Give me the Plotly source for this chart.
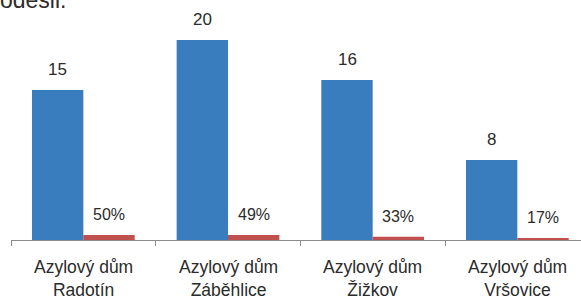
import plotly.graph_objects as go

categories = ["Radotín", "Záběhlice", "Žižkov", "Vršovice"]
label_prefix = "Azylový dům"
counts = [15, 20, 16, 8]
shares = [0.50, 0.49, 0.33, 0.17]
share_labels = ["50%", "49%", "33%", "17%"]
count_labels = ["15", "20", "16", "8"]
heading_text = "odešli."

BLUE = "#3a7dbf"
RED = "#c0504d"
TEXT = "#2b2b2b"
FONT = "Liberation Sans, Arial"
BARGAP = 0.29
PLOT_H = 210
PLOT_W = 570

fig = go.Figure()
fig.add_trace(go.Bar(x=categories, y=counts, marker=dict(color=BLUE, line=dict(width=0)),
                     hoverinfo="skip"))
fig.add_trace(go.Bar(x=categories, y=shares, marker=dict(color=RED, line=dict(width=0)),
                     hoverinfo="skip"))

half = (1 - BARGAP) / 4
annotations = []
for i, cat in enumerate(categories):
    annotations.append(dict(x=i - half, y=counts[i], xref="x", yref="y", text=count_labels[i],
                            showarrow=False, yanchor="bottom", yshift=9,
                            font=dict(size=17, color=TEXT, family=FONT)))
    annotations.append(dict(x=i + half, y=shares[i], xref="x", yref="y", text=share_labels[i],
                            showarrow=False, yanchor="bottom", yshift=10,
                            font=dict(size=16, color=TEXT, family=FONT)))
    annotations.append(dict(x=i, y=-38.5 / PLOT_H, xref="x", yref="paper",
                            text=label_prefix + "<br>" + cat,
                            showarrow=False, yanchor="middle", align="center",
                            font=dict(size=17.5, color=TEXT, family=FONT)))

fig.update_layout(
    width=581, height=297,
    margin=dict(l=11, r=0, t=30, b=57),
    barmode="group", bargap=BARGAP, bargroupgap=0,
    plot_bgcolor="white", paper_bgcolor="white",
    showlegend=False,
    annotations=annotations,
    font=dict(family=FONT, color=TEXT),
    title=dict(text=heading_text, x=0, xanchor="left", xref="container",
               y=1, yref="container", yanchor="middle",
               pad=dict(l=0, r=0, t=0, b=0),
               font=dict(size=23, color=TEXT, family=FONT)),
)
fig.update_xaxes(type="category", range=[-0.5, 3.44], showline=True, linecolor="#8c8c8c",
                 linewidth=1, ticks="outside", tickson="boundaries", ticklen=5,
                 tickcolor="#8c8c8c", showgrid=False, zeroline=False,
                 showticklabels=False, automargin=False)
fig.update_yaxes(visible=False, range=[0, 21], showgrid=False, zeroline=False)

fig.write_html("out.html", config={"displayModeBar": False},
               post_script="document.body.style.margin='0';")
